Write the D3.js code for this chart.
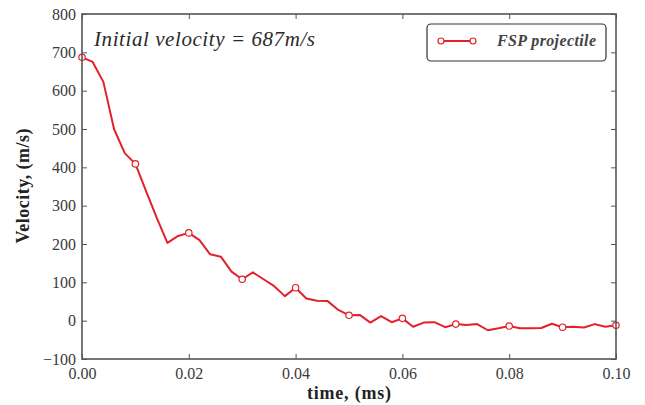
<!DOCTYPE html>
<meta charset="utf-8">
<style>
body { margin: 0; background: #fff; }
.tick text { font-family: "Liberation Serif", "DejaVu Serif", serif; font-size: 16px; fill: #3a3a3a; }
.frame { fill: none; stroke: #555; stroke-width: 1.6; }
</style>
<svg width="645" height="405"></svg>
<script src="https://d3js.org/d3.v7.min.js"></script>
<script>

// time in ms, velocity in m/s (every 0.002 ms)
var time = d3.range(51).map(function(i) { return i / 500; });
var velocity = [687, 675, 623, 500, 437, 409, 338, 268, 203, 221,
                229, 210, 173, 167, 128, 108, 126, 108, 90, 64,
                86, 58, 52, 51, 28, 14, 15, -5, 12, -4,
                6, -16, -5, -4, -17, -9, -11, -9, -25, -20,
                -14, -20, -20, -19, -8, -17, -16, -18, -9, -16,
                -12];
var xTicks = [0, 0.02, 0.04, 0.06, 0.08, 0.10];
var yTicks = [-100, 0, 100, 200, 300, 400, 500, 600, 700, 800];

var svg = d3.select("svg"),
    plotL = 82, plotR = 616, plotT = 14, plotB = 359;

var x = d3.scaleLinear().domain([0, 0.1]).range([plotL, plotR]);
var y = d3.scaleLinear().domain([-100, 800]).range([plotB, plotT]);

var data = time.map(function(t, i) { return {t: t, v: velocity[i]}; });

function minus(d) { return d < 0 ? "\u2212" + Math.abs(d) : d; }

function styleTicks(g) {
  g.select(".domain").remove();
  g.selectAll("line").attr("stroke", "#555");
}

svg.append("g")
    .attr("transform", "translate(0," + plotB + ")")
    .call(d3.axisBottom(x).tickValues(xTicks).tickSize(-5).tickPadding(9)
      .tickFormat(d3.format(".2f")))
    .call(styleTicks);

svg.append("g")
    .attr("transform", "translate(0," + plotT + ")")
    .call(d3.axisTop(x).tickValues(xTicks).tickSize(-5).tickFormat(""))
    .call(styleTicks);

svg.append("g")
    .attr("transform", "translate(" + plotL + ",0)")
    .call(d3.axisLeft(y).tickValues(yTicks).tickSize(-5).tickPadding(6).tickFormat(minus))
    .call(styleTicks);

svg.append("g")
    .attr("transform", "translate(" + plotR + ",0)")
    .call(d3.axisRight(y).tickValues(yTicks).tickSize(-5).tickFormat(""))
    .call(styleTicks);

svg.append("path")
    .datum(data)
    .attr("fill", "none")
    .attr("stroke", "#e3212b")
    .attr("stroke-width", 2)
    .attr("stroke-linejoin", "round")
    .attr("d", d3.line().x(function(d) { return x(d.t); }).y(function(d) { return y(d.v); }));

svg.append("g").selectAll("circle")
    .data(data.filter(function(d, i) { return i % 5 === 0; }))
  .enter().append("circle")
    .attr("cx", function(d) { return x(d.t); })
    .attr("cy", function(d) { return y(d.v); })
    .attr("r", 3.2)
    .attr("fill", "#fff")
    .attr("stroke", "#e3212b")
    .attr("stroke-width", 1.2);

svg.append("rect")
    .attr("class", "frame")
    .attr("x", plotL).attr("y", plotT)
    .attr("width", plotR - plotL).attr("height", plotB - plotT);

// annotation
svg.append("text")
    .attr("x", 94).attr("y", 46)
    .attr("font-family", "Liberation Serif, DejaVu Serif, serif")
    .attr("font-size", 21)
    .attr("font-style", "italic")
    .attr("fill", "#2a2a2a")
    .attr("textLength", 221)
    .attr("lengthAdjust", "spacing")
    .text("Initial velocity = 687m/s");

// legend
var lg = svg.append("g");
lg.append("rect")
    .attr("x", 427).attr("y", 24).attr("width", 179).attr("height", 37)
    .attr("rx", 4)
    .attr("fill", "#fff").attr("stroke", "#333").attr("stroke-width", 1.2);
lg.append("line")
    .attr("x1", 441).attr("x2", 473).attr("y1", 41).attr("y2", 41)
    .attr("stroke", "#e3212b").attr("stroke-width", 2);
lg.selectAll("circle").data([441, 473]).enter().append("circle")
    .attr("cx", function(d) { return d; }).attr("cy", 41).attr("r", 3)
    .attr("fill", "#fff").attr("stroke", "#e3212b").attr("stroke-width", 1.2);
lg.append("text")
    .attr("x", 497).attr("y", 46)
    .attr("font-family", "Liberation Serif, DejaVu Serif, serif")
    .attr("font-size", 16)
    .attr("font-style", "italic")
    .attr("font-weight", "bold")
    .attr("fill", "#444")
    .attr("textLength", 99)
    .attr("lengthAdjust", "spacing")
    .text("FSP projectile");

// axis titles
svg.append("text")
    .attr("x", 349).attr("y", 399)
    .attr("text-anchor", "middle")
    .attr("font-family", "Liberation Serif, DejaVu Serif, serif")
    .attr("font-size", 18)
    .attr("font-weight", "bold")
    .attr("fill", "#222")
    .attr("textLength", 84)
    .attr("lengthAdjust", "spacing")
    .text("time, (ms)");

svg.append("text")
    .attr("transform", "translate(29,186) rotate(-90)")
    .attr("text-anchor", "middle")
    .attr("font-family", "Liberation Serif, DejaVu Serif, serif")
    .attr("font-size", 18)
    .attr("font-weight", "bold")
    .attr("fill", "#222")
    .attr("textLength", 115)
    .attr("lengthAdjust", "spacing")
    .text("Velocity, (m/s)");

</script>
